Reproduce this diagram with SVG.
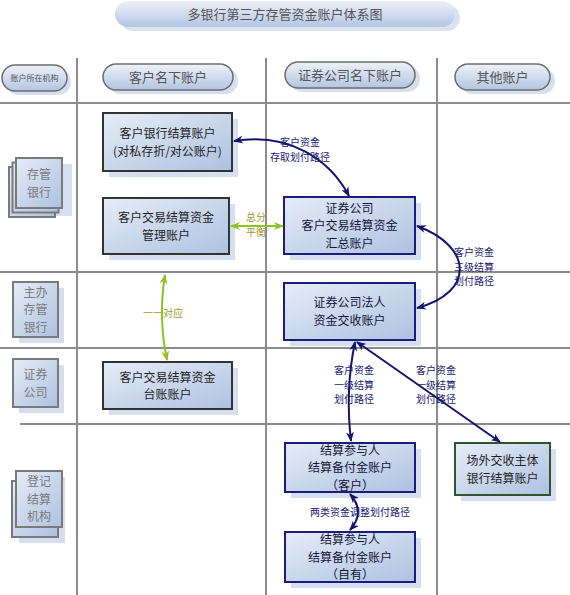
<svg xmlns="http://www.w3.org/2000/svg" width="570" height="595" viewBox="0 0 570 595">
<defs>
<linearGradient id="gNode" x1="0" y1="0" x2="1" y2="1">
<stop offset="0" stop-color="#e6edf7"/>
<stop offset="1" stop-color="#adc1e0"/>
</linearGradient>
<linearGradient id="gPill" x1="0" y1="0" x2="0" y2="1">
<stop offset="0" stop-color="#eef2f9"/>
<stop offset="1" stop-color="#b3c5e1"/>
</linearGradient>
<marker id="aNavy" viewBox="0 0 10 8" refX="9" refY="4" markerWidth="10" markerHeight="8" markerUnits="userSpaceOnUse" orient="auto-start-reverse">
<path d="M0,0 L10,4 L0,8 L3,4 Z" fill="#14146e"/>
</marker>
<marker id="aGreen" viewBox="0 0 10 8" refX="9" refY="4" markerWidth="10" markerHeight="8" markerUnits="userSpaceOnUse" orient="auto-start-reverse">
<path d="M0,0 L10,4 L0,8 L3,4 Z" fill="#8fc31f"/>
</marker>
</defs>
<style>
text{font-family:"Noto Sans CJK SC","Liberation Sans",sans-serif;text-anchor:middle}
.grid{stroke:#8c8c8c;stroke-width:2;fill:none}
.sh{fill:#d5dff0}
.n{fill:url(#gNode);stroke-width:2}
.nk{stroke:#333}
.nb{stroke:#1c1c7c}
.ng{stroke:#2e5430}
.nl{fill:url(#gNode);stroke:#7a7a7a;stroke-width:2}
.pill{fill:url(#gPill);stroke:#6d6d6d;stroke-width:1.5}
.t{font-size:12px;fill:#1e1e1e}
.tb{font-size:12px;fill:#14143a}
.tl{font-size:12px;fill:#7a7a7a}
.th{font-size:13px;fill:#555}
.cn{stroke:#14146e;stroke-width:2;fill:none;marker-start:url(#aNavy);marker-end:url(#aNavy)}
.cg{stroke:#8fc31f;stroke-width:2;fill:none;marker-start:url(#aGreen);marker-end:url(#aGreen)}
.ln{font-size:10px;fill:#1a1a70}
.lg{font-size:10px;fill:#9a9a2a}
</style>
<rect width="570" height="595" fill="#fff"/>

<g id="title">
<rect x="120" y="5" width="340" height="26" rx="13" fill="#dbe3f1"/>
<rect x="115" y="1" width="340" height="26" rx="13" fill="url(#gPill)"/>
<text class="th" x="285" y="18.5">多银行第三方存管资金账户体系图</text>
</g>

<g id="grid">
<line class="grid" x1="77" y1="58" x2="77" y2="595"/>
<line class="grid" x1="266" y1="58" x2="266" y2="595"/>
<line class="grid" x1="437" y1="58" x2="437" y2="595"/>
<line class="grid" x1="0" y1="103" x2="570" y2="103"/>
<line class="grid" x1="0" y1="272" x2="570" y2="272"/>
<line class="grid" x1="0" y1="348" x2="570" y2="348"/>
<line class="grid" x1="20" y1="424" x2="570" y2="424"/>
</g>

<g id="header">
<g id="h0"><rect x="6" y="69" width="65" height="26" rx="13" class="sh"/><rect x="2" y="65" width="65" height="26" rx="13" class="pill"/><text x="34.5" y="81" style="font-size:8px;fill:#555">账户所在机构</text></g>
<g id="h1"><rect x="108" y="68" width="130" height="26" rx="13" class="sh"/><rect x="103" y="64" width="130" height="26" rx="13" class="pill"/><text class="th" x="168" y="81.5">客户名下账户</text></g>
<g id="h2"><rect x="290" y="66" width="130" height="26" rx="13" class="sh"/><rect x="285" y="62" width="130" height="26" rx="13" class="pill"/><text class="th" x="350" y="79.5">证券公司名下账户</text></g>
<g id="h3"><rect x="460" y="68" width="95" height="26" rx="13" class="sh"/><rect x="455" y="64" width="95" height="26" rx="13" class="pill"/><text class="th" x="502.5" y="81.5">其他账户</text></g>
</g>

<g id="l_bank">
<rect x="22" y="164" width="50" height="52" class="sh"/>
<rect x="9" y="167" width="46" height="50" class="nl"/>
<rect x="12.5" y="162.5" width="46" height="50" class="nl"/>
<rect x="16" y="158" width="46" height="50" class="nl"/>
<text class="tl" x="39" y="179">存管</text>
<text class="tl" x="39" y="196.5">银行</text>
</g>
<g id="l_mainbank">
<rect x="19" y="288" width="45" height="55" class="sh"/>
<rect x="13" y="282" width="45" height="55" class="nl"/>
<text class="tl" x="35.5" y="296.5">主办</text>
<text class="tl" x="35.5" y="314">存管</text>
<text class="tl" x="35.5" y="331.5">银行</text>
</g>
<g id="l_sec">
<rect x="19" y="365" width="45" height="48" class="sh"/>
<rect x="13" y="359" width="45" height="48" class="nl"/>
<text class="tl" x="35.5" y="379">证券</text>
<text class="tl" x="35.5" y="396.5">公司</text>
</g>
<g id="l_clear">
<rect x="19" y="477" width="46" height="66" class="sh"/>
<rect x="12" y="481" width="46" height="56" class="nl"/>
<rect x="16" y="471" width="46" height="56" class="nl"/>
<text class="tl" x="39" y="486">登记</text>
<text class="tl" x="39" y="503.5">结算</text>
<text class="tl" x="39" y="521">机构</text>
</g>

<g id="n_bank_settle">
<rect x="109" y="119" width="129" height="58" class="sh"/>
<rect x="103" y="113" width="129" height="58" class="n nk"/>
<text class="t" x="167.5" y="138">客户银行结算账户</text>
<text class="t" x="167.5" y="155.5">(对私存折/对公账户)</text>
</g>
<g id="n_mgmt">
<rect x="109" y="204" width="126" height="56" class="sh"/>
<rect x="103" y="198" width="126" height="56" class="n nk"/>
<text class="t" x="166" y="222">客户交易结算资金</text>
<text class="t" x="166" y="239.5">管理账户</text>
</g>
<g id="n_sec_total">
<rect x="290" y="203" width="131" height="57" class="sh"/>
<rect x="284" y="197" width="131" height="57" class="n nb"/>
<text class="tb" x="349.5" y="212.5">证券公司</text>
<text class="tb" x="349.5" y="230">客户交易结算资金</text>
<text class="tb" x="349.5" y="247.5">汇总账户</text>
</g>
<g id="n_sec_legal">
<rect x="290" y="289" width="131" height="57" class="sh"/>
<rect x="284" y="283" width="131" height="57" class="n nb"/>
<text class="tb" x="349.5" y="307">证券公司法人</text>
<text class="tb" x="349.5" y="324.5">资金交收账户</text>
</g>
<g id="n_ledger">
<rect x="109" y="368" width="129" height="47" class="sh"/>
<rect x="103" y="362" width="129" height="47" class="n nk"/>
<text class="t" x="167.5" y="381.5">客户交易结算资金</text>
<text class="t" x="167.5" y="399">台账账户</text>
</g>
<g id="n_part_client">
<rect x="291" y="449" width="130" height="49" class="sh"/>
<rect x="285" y="443" width="130" height="49" class="n nb"/>
<text class="tb" x="350" y="454.5">结算参与人</text>
<text class="tb" x="350" y="472">结算备付金账户</text>
<text class="tb" x="350" y="489.5">（客户）</text>
</g>
<g id="n_part_own">
<rect x="291" y="538" width="130" height="50" class="sh"/>
<rect x="285" y="532" width="130" height="50" class="n nb"/>
<text class="tb" x="350" y="544">结算参与人</text>
<text class="tb" x="350" y="561.5">结算备付金账户</text>
<text class="tb" x="350" y="579">（自有）</text>
</g>
<g id="n_otc">
<rect x="461" y="449" width="95" height="52" class="sh"/>
<rect x="455" y="443" width="95" height="52" class="n ng"/>
<text class="t" x="502.5" y="465">场外交收主体</text>
<text class="t" x="502.5" y="482.5">银行结算账户</text>
</g>

<g id="connectors">
<path class="cn" d="M234,141 C290,132 330,160 349,196"/>
<path class="cg" d="M231,226 L283,226"/>
<path class="cn" d="M417,226 C472,246 476,292 417,308"/>
<path class="cg" d="M165,275 Q158,318 167,360"/>
<path class="cn" d="M355,342 Q345,390 351,441"/>
<path class="cn" d="M357,342 L500,442"/>
<path class="cn" d="M350,494 Q366,512 350,530"/>
<text class="ln" x="300" y="146">客户资金</text>
<text class="ln" x="300" y="160.5">存取划付路径</text>
<text class="lg" x="256" y="221">总分</text>
<text class="lg" x="256" y="235.5">平衡</text>
<text class="ln" x="474" y="256">客户资金</text>
<text class="ln" x="474" y="270.5">三级结算</text>
<text class="ln" x="474" y="285">划付路径</text>
<text class="lg" x="163" y="316.5">一一对应</text>
<text class="ln" x="354" y="374">客户资金</text>
<text class="ln" x="354" y="388.5">一级结算</text>
<text class="ln" x="354" y="403">划付路径</text>
<text class="ln" x="436" y="374">客户资金</text>
<text class="ln" x="436" y="388.5">一级结算</text>
<text class="ln" x="436" y="403">划付路径</text>
<text class="ln" x="360" y="515.5">两类资金调整划付路径</text>
</g>
</svg>
